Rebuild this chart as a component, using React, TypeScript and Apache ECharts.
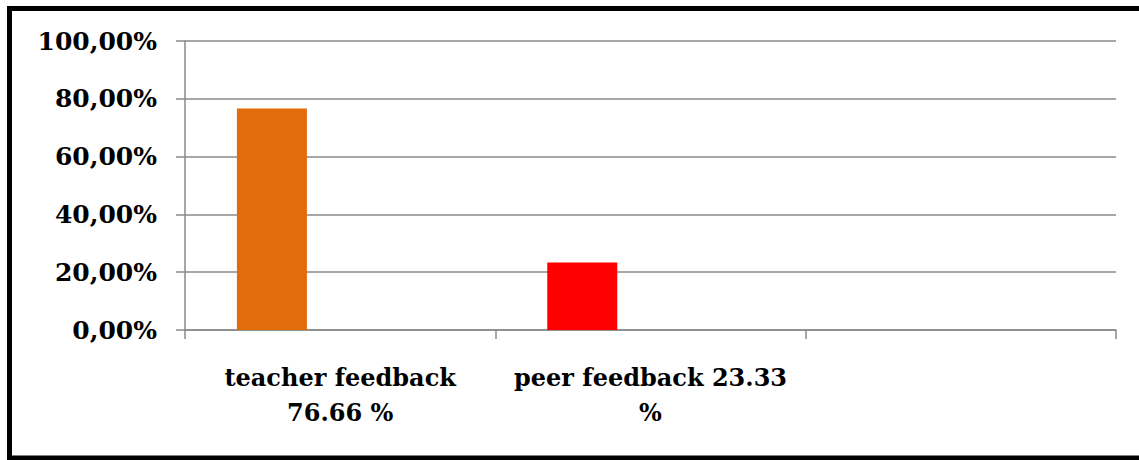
import React, { useEffect, useRef } from "react";
import * as echarts from "echarts";

const categories = ["teacher feedback\n76.66 %", "peer feedback 23.33\n%", ""];
const values = [76.66, 23.33, null];
const barColors = ["#E36C0A", "#FF0000", "#4F81BD"];
const yTicks = [0, 20, 40, 60, 80, 100];

export default function App() {
  const ref = useRef<HTMLDivElement>(null);
  useEffect(() => {
    const chart = echarts.init(ref.current!, null, { renderer: "svg" });
    const font = "DejaVu Serif";
    chart.setOption({
      animation: false,
      backgroundColor: "#ffffff",
      textStyle: { fontFamily: font },
      grid: { left: 185, right: 23, top: 41, bottom: 130 },
      xAxis: {
        type: "category",
        data: categories,
        boundaryGap: true,
        axisLine: { show: true, lineStyle: { color: "#8a8a8a", width: 1.5 } },
        axisTick: { show: true, length: 9, alignWithLabel: false, lineStyle: { color: "#8a8a8a", width: 1.5 } },
        axisLabel: {
          interval: 0,
          margin: 30,
          color: "#000000",
          fontFamily: font,
          fontWeight: "bold",
          fontSize: 24,
          lineHeight: 35,
        },
      },
      yAxis: {
        type: "value",
        min: yTicks[0],
        max: yTicks[yTicks.length - 1],
        interval: 20,
        axisLine: { show: true, lineStyle: { color: "#8a8a8a", width: 1.5 } },
        axisTick: { show: true, length: 9, lineStyle: { color: "#8a8a8a", width: 1.5 } },
        splitLine: { show: true, lineStyle: { color: "#8a8a8a", width: 1.5 } },
        axisLabel: {
          margin: 28,
          color: "#000000",
          fontFamily: font,
          fontWeight: "bold",
          fontSize: 25,
          formatter: (v: number) => v.toFixed(2).replace(".", ",") + "%",
        },
      },
      series: [
        {
          type: "bar",
          barWidth: 70,
          barGap: "-2.5%",
          data: values.map((v, i) => (v == null ? "-" : { value: v, itemStyle: { color: barColors[i] } })),
        },
        { type: "bar", barWidth: 70, barGap: "-2.5%", data: ["-", "-", "-"] },
        { type: "bar", barWidth: 70, barGap: "-2.5%", data: ["-", "-", "-"] },
      ],
      graphic: [
        {
          type: "rect",
          shape: { x: 9.5, y: 8.5, width: 1145, height: 449.5 },
          style: { fill: "none", stroke: "#000000", lineWidth: 5 },
          silent: true,
        },
      ],
    });
    return () => chart.dispose();
  }, []);
  return (
    <div
      ref={ref}
      style={{ position: "fixed", left: 0, top: 0, width: 1139, height: 460 }}
    />
  );
}
